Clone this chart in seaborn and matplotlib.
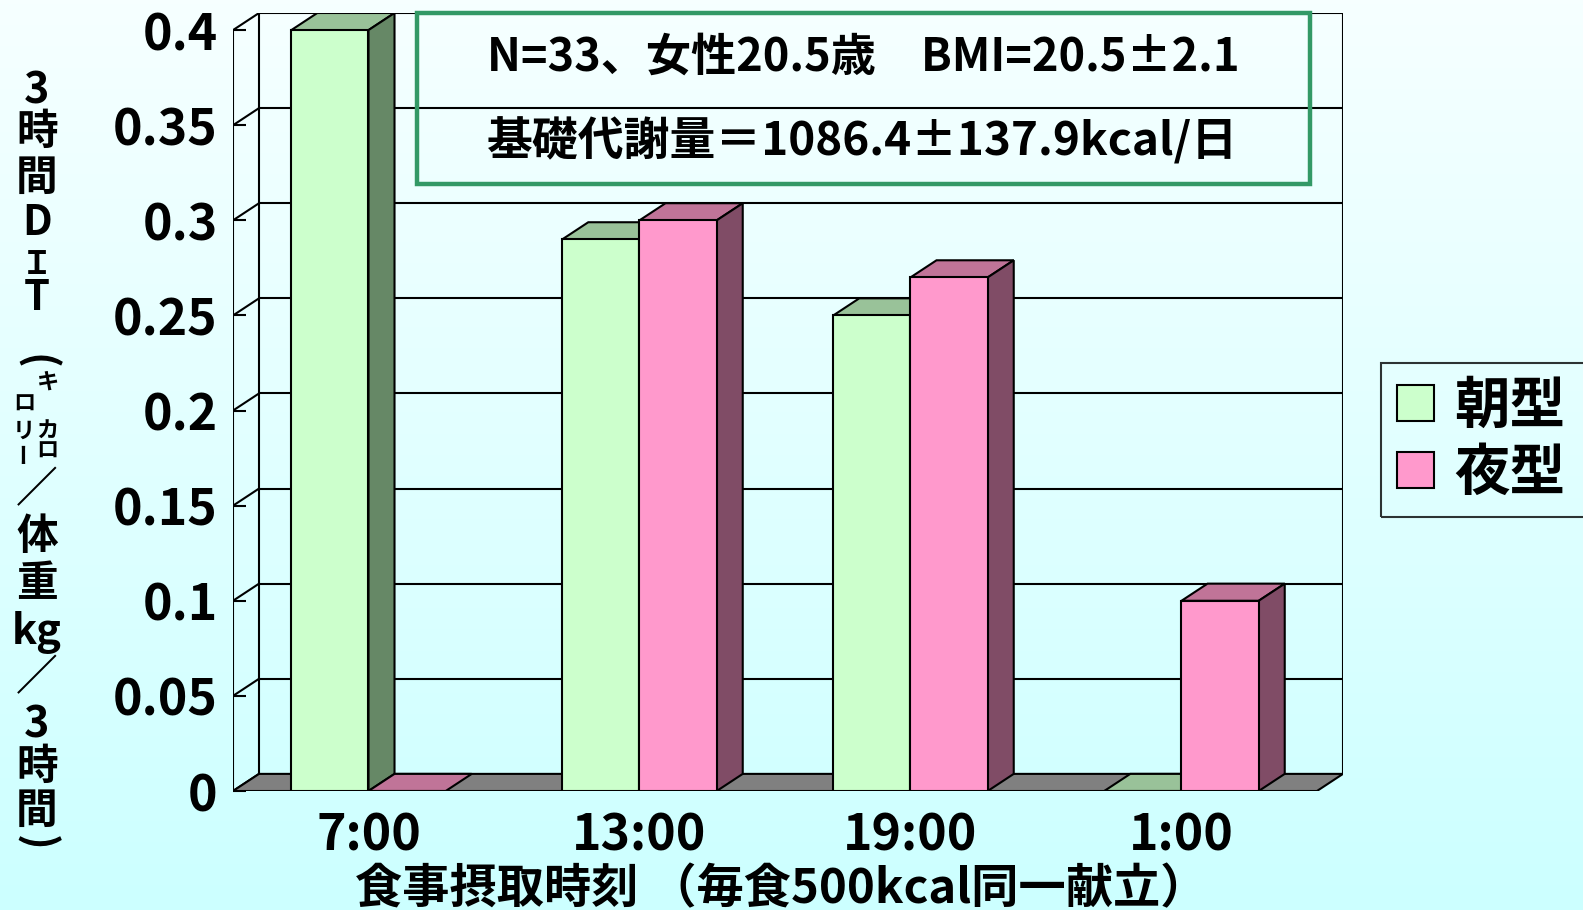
import numpy as np
import pandas as pd
import matplotlib
matplotlib.use("Agg")
import matplotlib.pyplot as plt
from matplotlib.patches import Polygon, Rectangle, Patch
import seaborn as sns

# ---- data ----
times = ["7:00", "13:00", "19:00", "1:00"]
groups = ["朝型", "夜型"]
morning_dit = [0.40, 0.29, 0.25, 0.0]
evening_dit = [0.0, 0.30, 0.27, 0.10]
y_ticks = [0, 0.05, 0.1, 0.15, 0.2, 0.25, 0.3, 0.35, 0.4]
y_tick_labels = ["0", "0.05", "0.1", "0.15", "0.2", "0.25", "0.3", "0.35", "0.4"]
info_line1 = "N=33、女性20.5歳　BMI=20.5±2.1"
info_line2 = "基礎代謝量＝1086.4±137.9kcal/日"
x_title = "食事摂取時刻 （毎食500kcal同一献立）"

front_colors = ["#CCFFCC", "#FF99CC"]
top_colors = ["#99C299", "#C07498"]
side_colors = ["#668866", "#804C66"]

sns.set_theme(style="white", rc={"text.color": "black", "axes.labelcolor": "black",
                                 "xtick.color": "black", "ytick.color": "black"})
plt.rcParams["font.family"] = ["Noto Sans CJK JP", "DejaVu Sans"]
plt.rcParams["font.weight"] = "bold"

W, H = 1583, 910
fig = plt.figure(figsize=(W / 100, H / 100), dpi=100)


def fx(x):
    return x / W


def fy(y):
    return 1 - y / H


# soft vertical background gradient
bg = fig.add_axes([0, 0, 1, 1], zorder=-10)
t = np.linspace(0, 1, 256)[:, None, None]
c_top = np.array([0.965, 1.0, 1.0])
c_bot = np.array([0.80, 1.0, 1.0])
bg.imshow(c_top + (c_bot - c_top) * t, aspect="auto", extent=[0, 1, 0, 1])
bg.axis("off")

# ---- pseudo-3D column chart ----
DX, DY = 0.096, 0.009          # depth offset of the back plane (data units)
X0, X1 = -0.5, 3.5
YMAX = 0.4
LW = 1.5

ax = fig.add_axes([fx(233), fy(791), fx(1343) - fx(233), fy(13) - fy(791)])
ax.set_facecolor("none")

df = pd.DataFrame({
    "time": times * 2,
    "value": morning_dit + evening_dit,
    "type": [groups[0]] * len(times) + [groups[1]] * len(times),
})
sns.barplot(data=df, x="time", y="value", hue="type", order=times, hue_order=groups,
            palette=front_colors, saturation=1, width=0.57, errorbar=None,
            edgecolor="black", linewidth=LW, legend=False, ax=ax)

# floor
ax.add_patch(Polygon([(X0, 0), (X1, 0), (X1 + DX, DY), (X0 + DX, DY)],
                     closed=True, fc="#808080", ec="black", lw=LW, zorder=1))
# back wall grid lines and frame
for v in y_ticks[1:]:
    ax.plot([X0 + DX, X1 + DX], [v + DY, v + DY], color="black", lw=LW, zorder=0.8)
for v in y_ticks:
    ax.plot([X0, X0 + DX], [v, v + DY], color="black", lw=LW, zorder=0.8)
ax.plot([X0 + DX, X0 + DX], [DY, YMAX + DY], color="black", lw=LW, zorder=0.8)
ax.plot([X1 + DX, X1 + DX], [DY, YMAX + DY], color="black", lw=LW, zorder=0.8)
ax.plot([X0, X0], [0, YMAX], color="black", lw=LW, zorder=0.9)

# top and side faces of every column, painted left to right
faces = []
for k, cont in enumerate(ax.containers):
    for bar in cont:
        faces.append((bar.get_x(), bar, k))
faces.sort(key=lambda f: f[0])
for i, (_, bar, k) in enumerate(faces):
    z = 3 + i
    x0, w, h = bar.get_x(), bar.get_width(), bar.get_height()
    bar.set_zorder(z + 0.2)
    ax.add_patch(Polygon([(x0, h), (x0 + w, h), (x0 + w + DX, h + DY), (x0 + DX, h + DY)],
                         closed=True, fc=top_colors[k], ec="black", lw=LW, zorder=z))
    if h > 0:
        ax.add_patch(Polygon([(x0 + w, 0), (x0 + w + DX, DY), (x0 + w + DX, h + DY), (x0 + w, h)],
                             closed=True, fc=side_colors[k], ec="black", lw=LW, zorder=z))

ax.set_xlim(X0, X1 + DX)
ax.set_ylim(0, YMAX + DY)
for s in ax.spines.values():
    s.set_visible(False)

ax.set_yticks(y_ticks, y_tick_labels)
ax.tick_params(axis="y", left=True, direction="in", length=9, width=LW, pad=11, labelsize=36)
ax.set_xticks(range(len(times)), times)
ax.set_xticks([0.5, 1.5, 2.5, 3.5], minor=True)
ax.tick_params(axis="x", which="major", bottom=True, length=0, pad=14, labelsize=36)
ax.tick_params(axis="x", which="minor", bottom=True, direction="in", length=9, width=LW)
ax.set_xlabel("")
ax.set_ylabel("")

# information box
fig.patches.append(Rectangle((fx(417), fy(184)), fx(1310) - fx(417), fy(13) - fy(184),
                             transform=fig.transFigure, fill=False, ec="#339966", lw=3.2,
                             zorder=20))
fig.text(fx(863), fy(58), info_line1, ha="center", va="center", fontsize=32.5, fontweight="bold")
fig.text(fx(863), fy(142), info_line2, ha="center", va="center", fontsize=33, fontweight="bold")

# x-axis title
fig.text(fx(781), fy(889), x_title, ha="center", va="center", fontsize=34, fontweight="bold")

# vertical y-axis title
main_chars = [("3", 91, 31), ("時", 132, 30), ("間", 178, 30), ("D", 223, 30),
              ("Ｉ", 265, 23), ("T", 298, 30),
              ("／", 490, 30), ("体", 537, 30), ("重", 584, 30), ("kg", 633, 30),
              ("／", 678, 30), ("3", 725, 31), ("時", 767, 30), ("間", 811, 30)]
for ch, yy, fs in main_chars:
    fig.text(fx(37), fy(yy), ch, ha="center", va="center", fontsize=fs, fontweight="bold")
# brackets turned for vertical writing
fig.text(fx(36), fy(362), "(", ha="center", va="center", fontsize=30, fontweight="bold",
         rotation=-90)
fig.text(fx(36), fy(843), ")", ha="center", va="center", fontsize=30, fontweight="bold",
         rotation=-90)
small_chars = [("キ", 48, 382, 0), ("ロ", 24, 404, 0), ("カ", 47, 431, 0), ("ロ", 47, 451, 0),
               ("リ", 24, 431, 0), ("ー", 24, 452, 90)]
for ch, xx, yy, rot in small_chars:
    fig.text(fx(xx), fy(yy), ch, ha="center", va="center", fontsize=16, fontweight="bold",
             rotation=rot)

# legend
handles = [Patch(fc=c, ec="black", lw=LW) for c in front_colors]
leg = fig.legend(handles, groups, loc="upper left",
                 bbox_to_anchor=(fx(1381), fy(506), fx(1600) - fx(1381), fy(363) - fy(506)),
                 mode="expand", fontsize=40, frameon=True, fancybox=False, edgecolor="black",
                 facecolor="none", handlelength=0.68, handleheight=0.62,
                 handletextpad=0.36, borderpad=0.28, labelspacing=0.2, borderaxespad=0)
leg.get_frame().set_linewidth(LW)

fig.savefig("out.png", dpi=100)
